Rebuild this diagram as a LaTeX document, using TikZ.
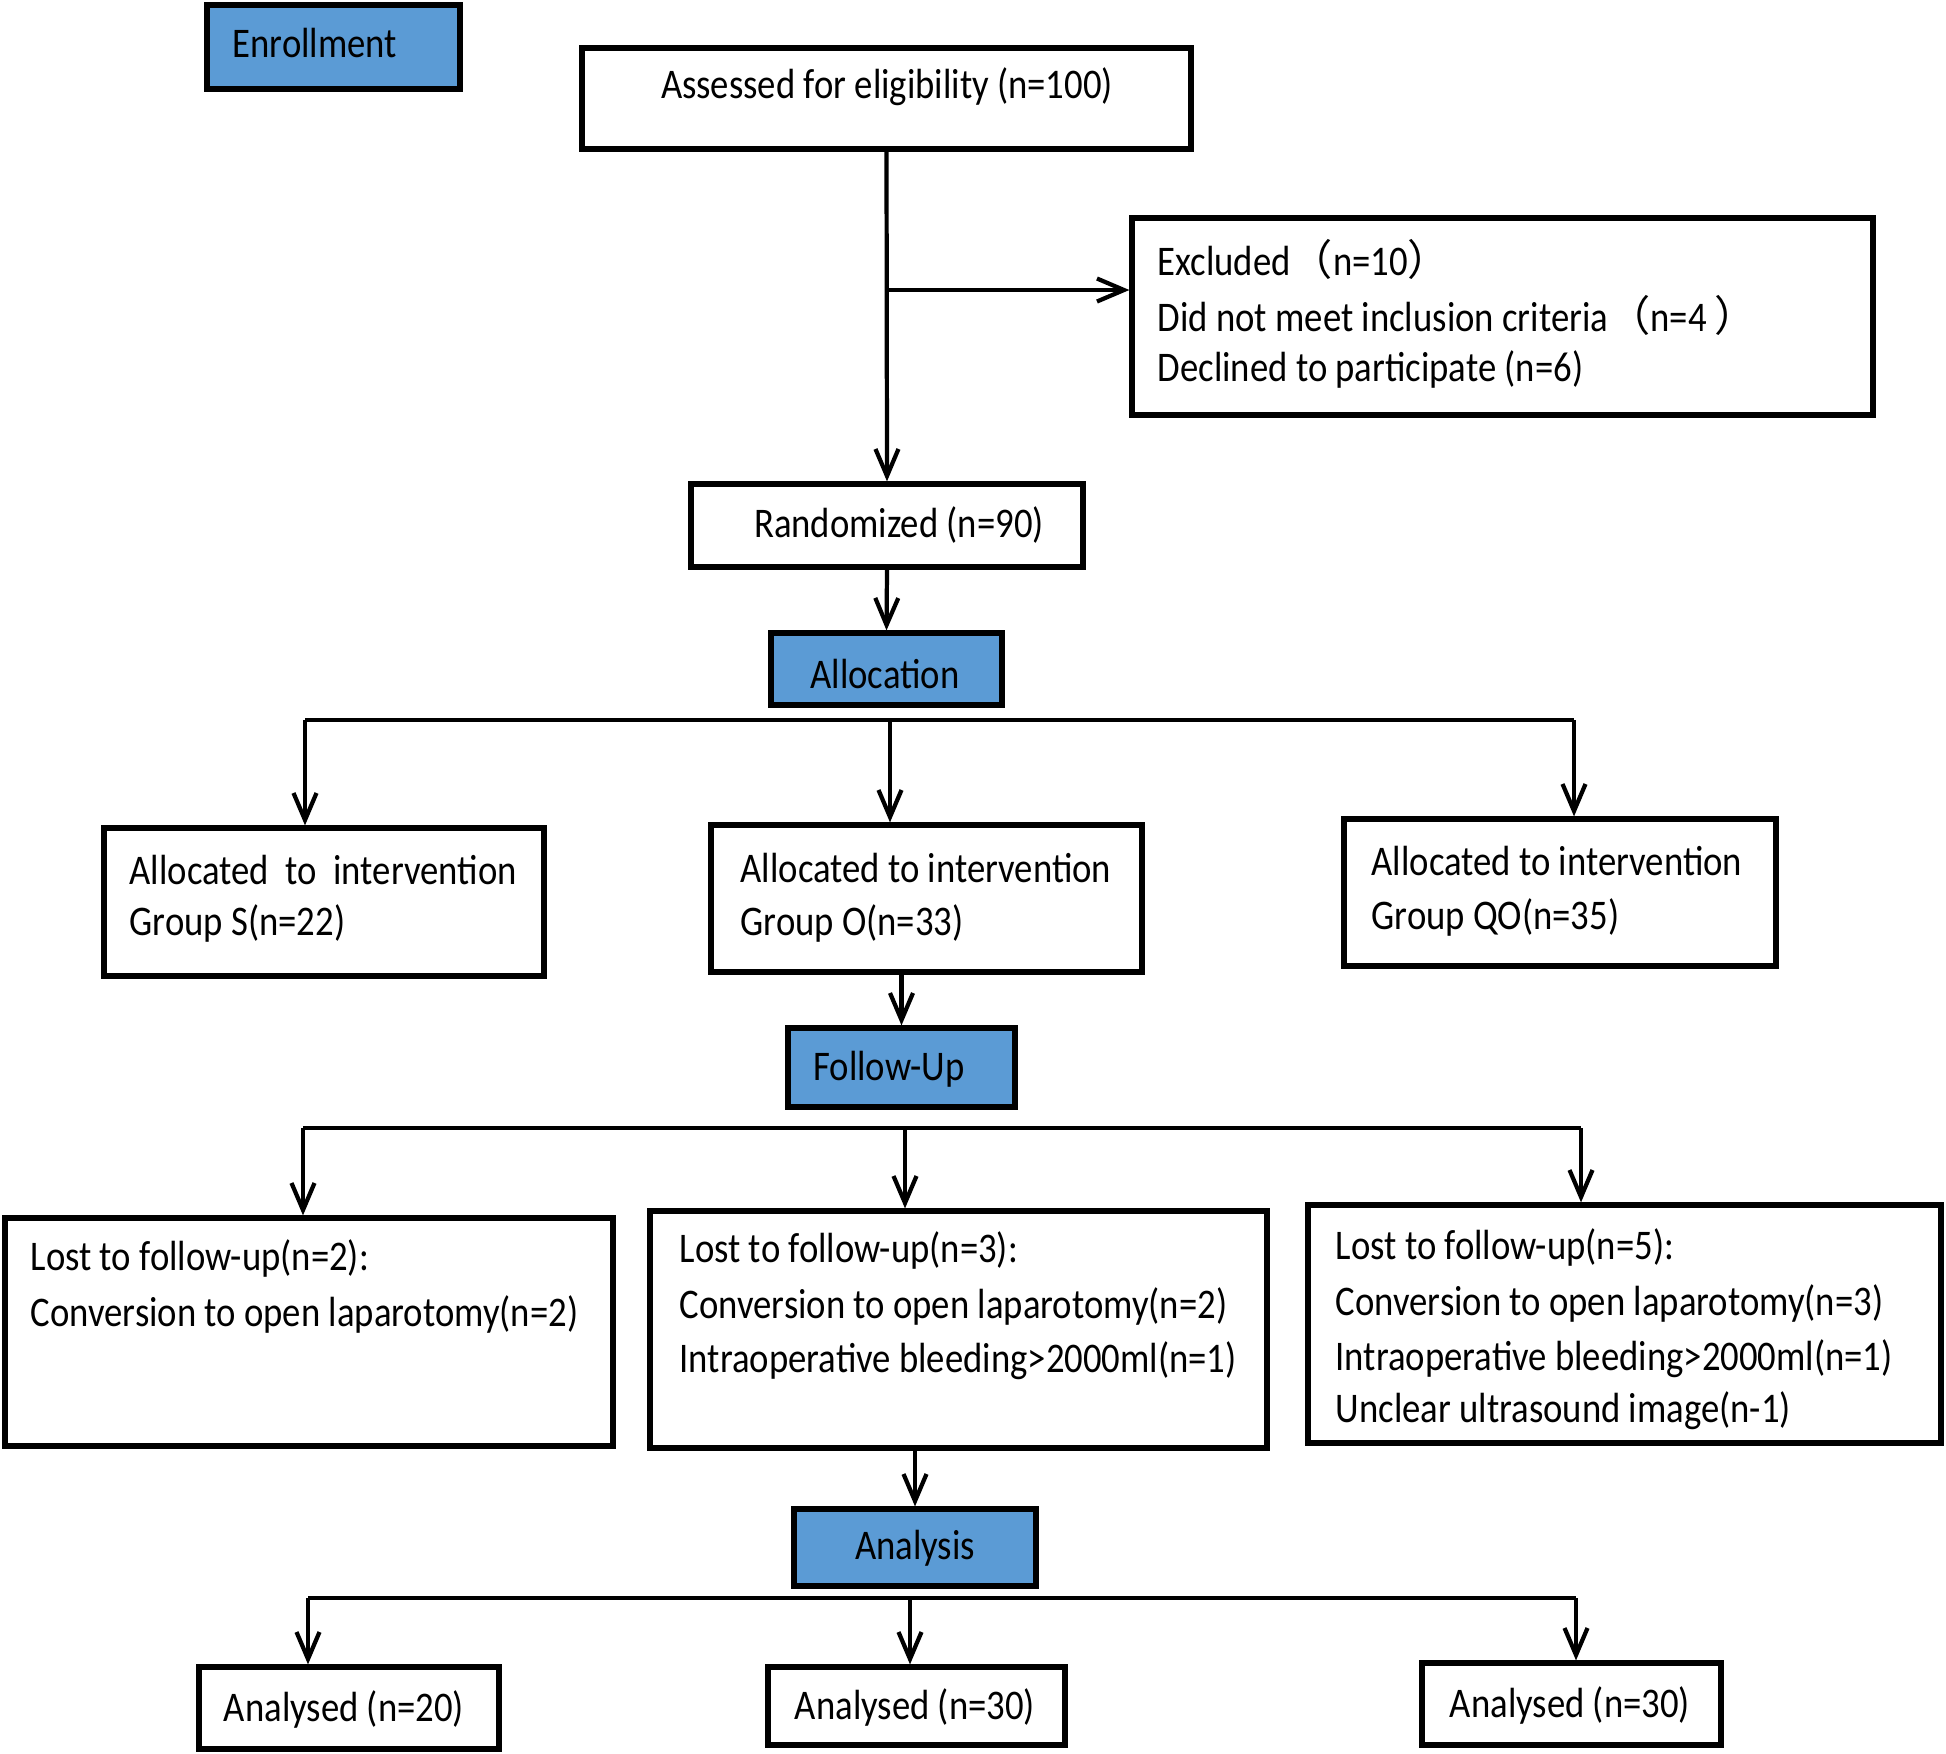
\documentclass[tikz,border=0pt]{standalone}
\usepackage{fontspec}
\setmainfont[FakeStretch=0.87]{Carlito}
\newfontfamily\cjk{Noto Sans CJK SC}
\usetikzlibrary{arrows.meta,fit}
\definecolor{hdrblue}{HTML}{5B9BD5}
\begin{document}
\begin{tikzpicture}[x=0.01cm,y=-0.01cm,
  box/.style={draw=black,line width=1.5pt,inner sep=0pt,fill=white},
  hdr/.style={box,fill=hdrblue},
  txt/.style={inner sep=0pt,font=\fontsize{12}{14}\selectfont,text=black},
  conn/.style={line width=1.2pt},
  arr/.style={conn,-{Straight Barb[length=2.7mm,width=2.3mm,line width=1.2pt]}}]
\useasboundingbox[fill=white] (0,0) rectangle (1946,1753);

% boxes
\node[hdr,fit={(207,5) (460,89)}] (enroll) {};
\node[box,fit={(582,48) (1191,149)}] (assess) {};
\node[box,fit={(1132,218) (1873,415)}] (excl) {};
\node[box,fit={(691,484) (1083,567)}] (rand) {};
\node[hdr,fit={(771,633) (1002,705)}] (alloc) {};
\node[box,fit={(104,828) (544,976)}] (allocS) {};
\node[box,fit={(711,825) (1142,972)}] (allocO) {};
\node[box,fit={(1344,819) (1776,966)}] (allocQ) {};
\node[hdr,fit={(788,1028) (1015,1107)}] (follow) {};
\node[box,fit={(5,1218) (613,1446)}] (lostS) {};
\node[box,fit={(650,1211) (1267,1448)}] (lostO) {};
\node[box,fit={(1308,1205) (1941,1443)}] (lostQ) {};
\node[hdr,fit={(794,1509) (1036,1586)}] (anal) {};
\node[box,fit={(199,1667) (499,1749)}] (anS) {};
\node[box,fit={(768,1667) (1065,1745)}] (anO) {};
\node[box,fit={(1422,1663) (1721,1745)}] (anQ) {};

% texts
\node[txt] at (315,43) {Enrollment};
\node[txt] at (887,87) {Assessed for eligibility (n=100)};
\node[txt,anchor=west] at (1157,259) {Excluded{\cjk（}n=10{\cjk）}};
\node[txt,anchor=west] at (1157,315) {Did not meet inclusion criteria{\cjk（}n=4 {\cjk）}};
\node[txt,anchor=west] at (1157,369) {Declined to participate (n=6)};
\node[txt] at (899,525) {Randomized (n=90)};
\node[txt] at (885,674) {Allocation};
\node[txt,anchor=west] at (129,870) {Allocated\ \ to\ \ intervention};
\node[txt,anchor=west] at (129,923) {Group S(n=22)};
\node[txt,anchor=west] at (740,868) {Allocated to intervention};
\node[txt,anchor=west] at (740,923) {Group O(n=33)};
\node[txt,anchor=west] at (1371,861) {Allocated to intervention};
\node[txt,anchor=west] at (1371,917) {Group QO(n=35)};
\node[txt] at (889,1069) {Follow-Up};
\node[txt,anchor=west] at (30,1258) {Lost to follow-up(n=2):};
\node[txt,anchor=west] at (30,1314) {Conversion to open laparotomy(n=2)};
\node[txt,anchor=west] at (679,1250) {Lost to follow-up(n=3):};
\node[txt,anchor=west] at (679,1306) {Conversion to open laparotomy(n=2)};
\node[txt,anchor=west] at (679,1361) {Intraoperative bleeding>2000ml(n=1)};
\node[txt,anchor=west] at (1335,1247) {Lost to follow-up(n=5):};
\node[txt,anchor=west] at (1335,1303) {Conversion to open laparotomy(n=3)};
\node[txt,anchor=west] at (1335,1359) {Intraoperative bleeding>2000ml(n=1)};
\node[txt,anchor=west] at (1335,1411) {Unclear ultrasound image(n-1)};
\node[txt] at (915,1548) {Analysis};
\node[txt] at (344,1709) {Analysed (n=20)};
\node[txt] at (915,1707) {Analysed (n=30)};
\node[txt] at (1570,1705) {Analysed (n=30)};

% connectors
\draw[arr] (assess.south) -- (rand.north);
\coordinate (br) at (886,290);
\draw[arr] (br) -- (br -| excl.west);
\draw[arr] (rand.south) -- (alloc.north);

\coordinate (a1) at (305,720);
\coordinate (a2) at (890,720);
\coordinate (a3) at (1574,720);
\draw[conn] (a1) -- (a3);
\draw[arr] (a1) -- (a1 |- allocS.north);
\draw[arr] (a2) -- (a2 |- allocO.north);
\draw[arr] (a3) -- (a3 |- allocQ.north);

\draw[arr] (follow.north |- allocO.south) -- (follow.north);

\coordinate (f1) at (303,1128);
\coordinate (f2) at (905,1128);
\coordinate (f3) at (1581,1128);
\draw[conn] (f1) -- (f3);
\draw[arr] (f1) -- (f1 |- lostS.north);
\draw[arr] (f2) -- (f2 |- lostO.north);
\draw[arr] (f3) -- (f3 |- lostQ.north);

\draw[arr] (anal.north |- lostO.south) -- (anal.north);

\coordinate (z1) at (308,1598);
\coordinate (z2) at (910,1598);
\coordinate (z3) at (1576,1598);
\draw[conn] (z1) -- (z3);
\draw[arr] (z1) -- (z1 |- anS.north);
\draw[arr] (z2) -- (z2 |- anO.north);
\draw[arr] (z3) -- (z3 |- anQ.north);
\end{tikzpicture}
\end{document}
